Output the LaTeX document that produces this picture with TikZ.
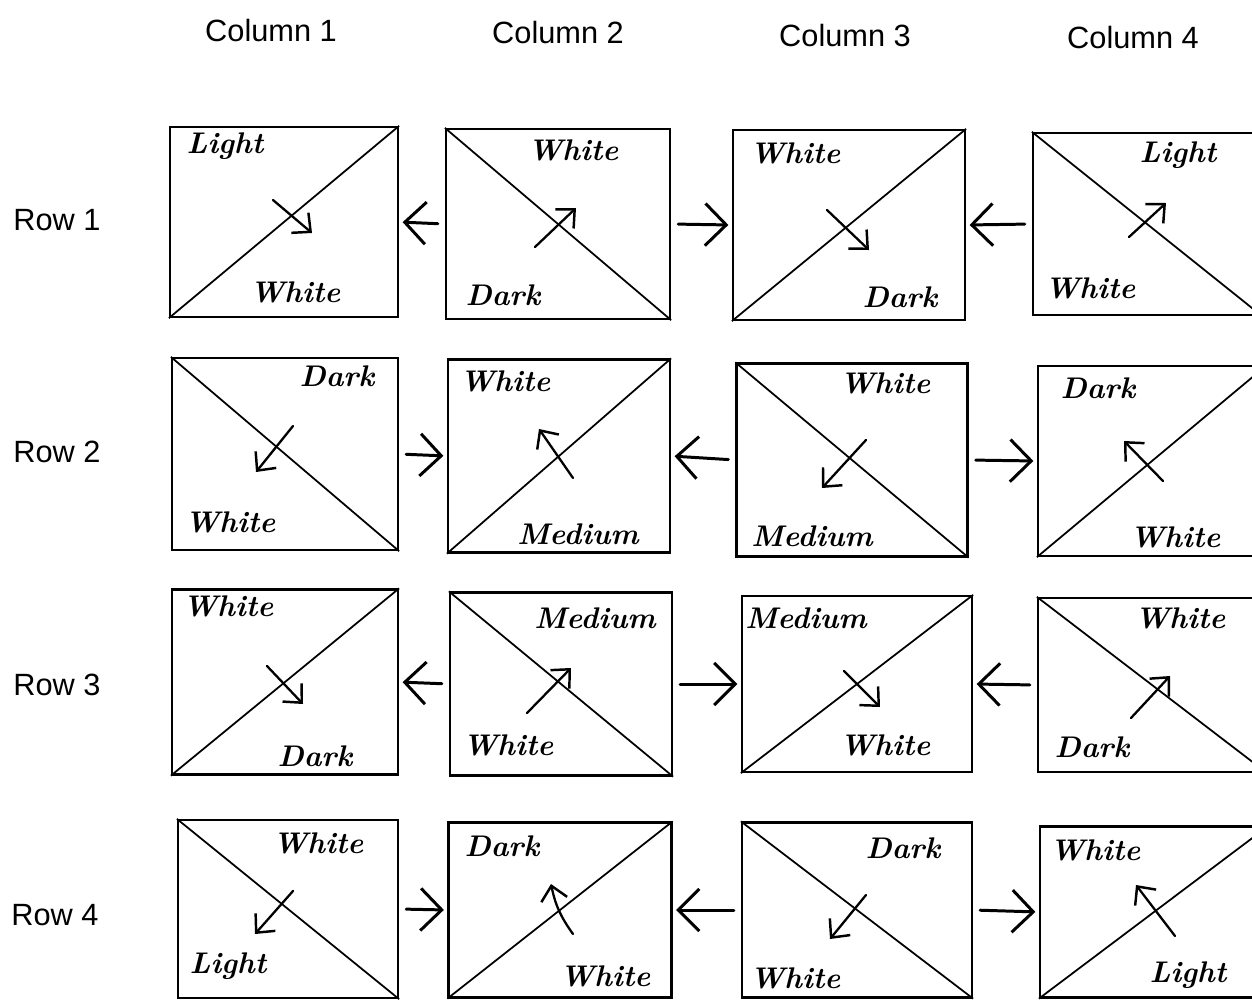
\documentclass[tikz,border=0pt]{standalone}
\usepackage{fontspec}
\setsansfont{Liberation Sans}
\usetikzlibrary{arrows.meta, positioning}

\begin{document}
\begin{tikzpicture}[x=0.02cm, y=-0.02cm,
  cell/.style={draw, line width=1.3pt, minimum width=4.56cm, minimum height=3.8cm,
               inner sep=0pt},
  diag/.style={line width=1pt},
  hand/.style={font=\fontsize{17}{17}\selectfont\bfseries\itshape, inner sep=0pt},
  head/.style={font=\sffamily\fontsize{17.5}{17.5}\selectfont},
  flow/.style={line width=1.7pt, line cap=round,
               -{Straight Barb[length=12pt, width=24pt, line width=1.7pt]},
               shorten >=2pt, shorten <=4pt},
  turn/.style={line width=1.3pt, line cap=round,
               -{Straight Barb[length=8pt, width=15pt, line width=1.4pt]}}]

  \useasboundingbox (0,0) rectangle (1252,1005);
  \clip (0,0) rectangle (1252,1005);

  % Headers
  \node[head] (c1) at (271,31) {Column 1};
  \node[head] (c2) at (558,33) {Column 2};
  \node[head] (c3) at (845,36) {Column 3};
  \node[head] (c4) at (1133,38) {Column 4};
  \node[head] (r1) at (57,220) {Row 1};
  \node[head] (r2) at (57,452) {Row 2};
  \node[head] (r3) at (57,685) {Row 3};
  \node[head] (r4) at (55,915) {Row 4};

  % Cells
  \node[cell] (b11) at (284,222) {};
  \node[cell, minimum width=4.48cm] (b12) at (558,224) {};
  \node[cell, minimum width=4.64cm] (b13) at (849,225) {};
  \node[cell, minimum height=3.64cm] (b14) at (1147,224) {};

  \node[cell, minimum height=3.84cm, minimum width=4.52cm] (b21) at (285,454) {};
  \node[cell, minimum height=3.86cm, minimum width=4.44cm] (b22) at (559,456) {};
  \node[cell, minimum height=3.86cm, minimum width=4.62cm] (b23) at (852,460) {};
  \node[cell, minimum height=3.8cm] (b24) at (1152,461) {};

  \node[cell, minimum height=3.7cm, minimum width=4.52cm] (b31) at (285,682) {};
  \node[cell, minimum height=3.66cm, minimum width=4.44cm] (b32) at (561,684) {};
  \node[cell, minimum height=3.52cm, minimum width=4.6cm] (b33) at (857,684) {};
  \node[cell, minimum height=3.48cm] (b34) at (1152,685) {};

  \node[cell, minimum height=3.56cm, minimum width=4.4cm] (b41) at (288,909) {};
  \node[cell, minimum height=3.5cm, minimum width=4.46cm] (b42) at (560,910) {};
  \node[cell, minimum height=3.5cm, minimum width=4.6cm] (b43) at (857,910) {};
  \node[cell, minimum height=3.42cm] (b44) at (1154,912) {};

  % Diagonals
  \draw[diag] (b11.south west) -- (b11.north east);
  \draw[diag] (b12.north west) -- (b12.south east);
  \draw[diag] (b13.south west) -- (b13.north east);
  \draw[diag] (b14.north west) -- (b14.south east);
  \draw[diag] (b21.north west) -- (b21.south east);
  \draw[diag] (b22.south west) -- (b22.north east);
  \draw[diag] (b23.north west) -- (b23.south east);
  \draw[diag] (b24.south west) -- (b24.north east);
  \draw[diag] (b31.south west) -- (b31.north east);
  \draw[diag] (b32.north west) -- (b32.south east);
  \draw[diag] (b33.south west) -- (b33.north east);
  \draw[diag] (b34.north west) -- (b34.south east);
  \draw[diag] (b41.north west) -- (b41.south east);
  \draw[diag] (b42.south west) -- (b42.north east);
  \draw[diag] (b43.north west) -- (b43.south east);
  \draw[diag] (b44.south west) -- (b44.north east);

  % Shade labels
  \node[hand] (t11) at (225,146) {Light};
  \node[hand] (u11) at (295,292) {White};
  \node[hand] (t12) at (573,150) {White};
  \node[hand] (u12) at (503,295) {Dark};
  \node[hand] (t13) at (795,153) {White};
  \node[hand] (u13) at (900,297) {Dark};
  \node[hand] (t14) at (1178,155) {Light};
  \node[hand] (u14) at (1090,288) {White};

  \node[hand] (t21) at (337,376) {Dark};
  \node[hand] (u21) at (230,522) {White};
  \node[hand] (t22) at (505,381) {White};
  \node[hand] (u22) at (578,534) {Medium};
  \node[hand] (t23) at (885,383) {White};
  \node[hand] (u23) at (812,536) {Medium};
  \node[hand] (t24) at (1098,388) {Dark};
  \node[hand] (u24) at (1175,537) {White};

  \node[hand] (t31) at (228,606) {White};
  \node[hand] (u31) at (315,756) {Dark};
  \node[hand] (t32) at (595,618) {Medium};
  \node[hand] (u32) at (508,745) {White};
  \node[hand] (t33) at (806,618) {Medium};
  \node[hand] (u33) at (885,745) {White};
  \node[hand] (t34) at (1180,618) {White};
  \node[hand] (u34) at (1092,747) {Dark};

  \node[hand] (t41) at (318,843) {White};
  \node[hand] (u41) at (228,966) {Light};
  \node[hand] (t42) at (502,846) {Dark};
  \node[hand] (u42) at (605,976) {White};
  \node[hand] (t43) at (903,848) {Dark};
  \node[hand] (u43) at (795,978) {White};
  \node[hand] (t44) at (1095,850) {White};
  \node[hand] (u44) at (1188,975) {Light};

  % Turn arrows across the diagonals
  \draw[turn] ([shift={(-11,-22)}]b11.center) -- ([shift={(28,11)}]b11.center);
  \draw[turn] ([shift={(-23,23)}]b12.center) -- ([shift={(18,-16)}]b12.center);
  \draw[turn] ([shift={(-22,-15)}]b13.center) -- ([shift={(20,25)}]b13.center);
  \draw[turn] ([shift={(-18,13)}]b14.center) -- ([shift={(19,-21)}]b14.center);
  \draw[turn] ([shift={(8,-28)}]b21.center) -- ([shift={(-29,18)}]b21.center);
  \draw[turn] ([shift={(14,22)}]b22.center) -- ([shift={(-20,-27)}]b22.center);
  \draw[turn] ([shift={(14,-20)}]b23.center) -- ([shift={(-30,28)}]b23.center);
  \draw[turn] ([shift={(11,20)}]b24.center) -- ([shift={(-28,-20)}]b24.center);
  \draw[turn] ([shift={(-18,-16)}]b31.center) -- ([shift={(18,22)}]b31.center);
  \draw[turn] ([shift={(-34,29)}]b32.center) -- ([shift={(10,-16)}]b32.center);
  \draw[turn] ([shift={(-13,-13)}]b33.center) -- ([shift={(23,23)}]b33.center);
  \draw[turn] ([shift={(-21,33)}]b34.center) -- ([shift={(18,-9)}]b34.center);
  \draw[turn] ([shift={(5,-18)}]b41.center) -- ([shift={(-33,25)}]b41.center);
  \draw[turn] ([shift={(13,24)}]b42.center) to[bend left=12] ([shift={(-9,-26)}]b42.center);
  \draw[turn] ([shift={(9,-15)}]b43.center) -- ([shift={(-27,29)}]b43.center);
  \draw[turn] ([shift={(21,24)}]b44.center) -- ([shift={(-18,-27)}]b44.center);

  % Arrows between cells
  \draw[flow] (b12.west) -- (b11.east);
  \draw[flow] (b12.east) -- (b13.west);
  \draw[flow] (b14.west) -- (b13.east);
  \draw[flow] (b21.east) -- (b22.west);
  \draw[flow] (b23.west) -- (b22.east);
  \draw[flow] (b23.east) -- (b24.west);
  \draw[flow] (b32.west) -- (b31.east);
  \draw[flow] (b32.east) -- (b33.west);
  \draw[flow] (b34.west) -- (b33.east);
  \draw[flow] (b41.east) -- (b42.west);
  \draw[flow] (b43.west) -- (b42.east);
  \draw[flow] (b43.east) -- (b44.west);

\end{tikzpicture}
\end{document}
